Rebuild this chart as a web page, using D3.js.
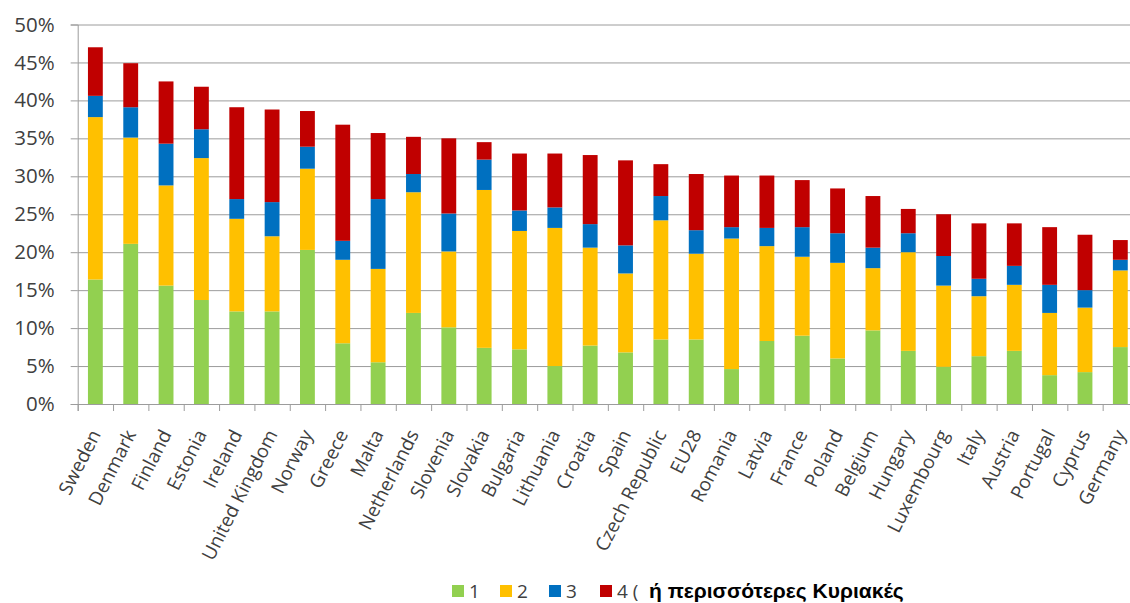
<!DOCTYPE html>
<html>
<head>
<meta charset="utf-8">
<script src="https://cdn.jsdelivr.net/npm/d3@7"></script>
<style>
  body { margin: 0; background: #fff; }
  svg { display: block; }
</style>
</head>
<body>
<svg id="chart" width="1130" height="603"></svg>
<script>
const countries = ["Sweden", "Denmark", "Finland", "Estonia", "Ireland", "United Kingdom", "Norway",
  "Greece", "Malta", "Netherlands", "Slovenia", "Slovakia", "Bulgaria", "Lithuania", "Croatia",
  "Spain", "Czech Republic", "EU28", "Romania", "Latvia", "France", "Poland", "Belgium", "Hungary",
  "Luxembourg", "Italy", "Austria", "Portugal", "Cyprus", "Germany"];

// share of workers by number of Sundays worked per month (%)
const one   = [16.4, 21.1, 15.6, 13.7, 12.2, 12.2, 20.3, 8.0, 5.5, 12.0, 10.1, 7.4, 7.2, 5.0, 7.7,
  6.8, 8.5, 8.5, 4.6, 8.3, 9.0, 6.0, 9.7, 7.0, 4.9, 6.3, 7.0, 3.8, 4.2, 7.5];
const two   = [21.4, 14.0, 13.2, 18.7, 12.2, 9.9, 10.7, 11.0, 12.3, 15.9, 10.0, 20.8, 15.6, 18.2, 12.9,
  10.4, 15.7, 11.3, 17.2, 12.5, 10.4, 12.6, 8.2, 13.0, 10.7, 7.9, 8.7, 8.2, 8.5, 10.1];
const three = [2.8, 4.0, 5.5, 3.8, 2.6, 4.5, 2.9, 2.5, 9.2, 2.4, 5.0, 4.0, 2.7, 2.7, 3.1,
  3.7, 3.2, 3.1, 1.5, 2.4, 3.9, 3.9, 2.7, 2.5, 3.9, 2.3, 2.5, 3.7, 2.3, 1.4];
const four  = [6.4, 5.8, 8.2, 5.6, 12.1, 12.2, 4.7, 15.3, 8.7, 4.9, 9.9, 2.3, 7.5, 7.1, 9.1,
  11.2, 4.2, 7.4, 6.8, 6.9, 6.2, 5.9, 6.8, 3.2, 5.5, 7.3, 5.6, 7.6, 7.3, 2.6];

const seriesKeys = ["1", "2", "3", "4"];
const yTicks = [0, 5, 10, 15, 20, 25, 30, 35, 40, 45, 50];

const rows = countries.map((c, i) => ({ country: c, "1": one[i], "2": two[i], "3": three[i], "4": four[i] }));

const svg = d3.select("#chart");
const x0 = 77.7, x1 = 1138, yTop = 24.5, yBot = 404;

const x = d3.scaleBand().domain(countries).range([x0, x1]).paddingInner(0.58).paddingOuter(0.29);
const xi = d3.scaleLinear().domain([0, countries.length]).range([x0, x1]);
const y = d3.scaleLinear().domain([0, 50]).range([yBot, yTop]);
const color = d3.scaleOrdinal().domain(seriesKeys).range(["#92D050", "#FFC000", "#0070C0", "#C00000"]);

// grid
svg.append("g")
  .attr("transform", `translate(${x0},0)`)
  .call(d3.axisLeft(y).tickValues(yTicks).tickSize(-(x1 - x0)).tickFormat(""))
  .call(g => g.select(".domain").remove())
  .call(g => g.selectAll("line").attr("stroke", "#9c9c9c"));

// y axis
svg.append("g")
  .attr("transform", `translate(${x0},0)`)
  .call(d3.axisLeft(y).tickValues(yTicks).tickSize(7).tickPadding(16).tickFormat(d => d + "%"))
  .call(g => g.select(".domain").attr("stroke", "#9c9c9c"))
  .call(g => g.selectAll("line").attr("stroke", "#9c9c9c"))
  .call(g => g.selectAll("text")
    .attr("fill", "#404040")
    .style("font-family", "'Open Sans', sans-serif")
    .style("font-size", "20.5px"));

// bars
const stacked = d3.stack().keys(seriesKeys)(rows);
svg.append("g")
  .selectAll("g")
  .data(stacked)
  .join("g")
  .attr("fill", d => color(d.key))
  .selectAll("rect")
  .data(d => d)
  .join("rect")
  .attr("x", d => x(d.data.country))
  .attr("width", x.bandwidth())
  .attr("y", d => y(d[1]))
  .attr("height", d => y(d[0]) - y(d[1]));

// x axis ticks at band edges
svg.append("g")
  .attr("transform", `translate(0,${yBot})`)
  .call(d3.axisBottom(xi).tickValues(d3.range(countries.length + 1)).tickSize(7).tickFormat(""))
  .call(g => g.select(".domain").attr("stroke", "#9c9c9c"))
  .call(g => g.selectAll("line").attr("stroke", "#9c9c9c"));

// x labels
svg.append("g")
  .attr("transform", `translate(0,${yBot})`)
  .call(d3.axisBottom(x).tickSize(0).tickPadding(0))
  .call(g => g.select(".domain").remove())
  .call(g => g.selectAll("text")
    .attr("text-anchor", "end")
    .attr("dy", "0.35em")
    .attr("transform", "translate(0,27) rotate(-63)")
    .attr("fill", "#404040")
    .style("font-family", "'Open Sans', sans-serif")
    .style("font-size", "19px"));

// legend
const legend = svg.append("g").attr("transform", "translate(0,591)");
const legX = [452, 500, 549, 600];
seriesKeys.forEach((k, i) => {
  legend.append("rect").attr("x", legX[i]).attr("y", -6).attr("width", 12).attr("height", 12).attr("fill", color(k));
  legend.append("text").attr("x", legX[i] + 17).attr("y", 0).attr("dy", "0.38em")
    .attr("fill", "#404040")
    .style("font-family", "'Open Sans', sans-serif")
    .style("font-size", "19px")
    .text(k === "4" ? "4 (" : k);
});
legend.append("rect").attr("x", 638).attr("y", -16).attr("width", 290).attr("height", 26).attr("fill", "#fff");
legend.append("text").attr("x", 649).attr("y", 0).attr("dy", "0.35em")
  .attr("fill", "#000")
  .style("font-family", "'Liberation Sans', Arial, sans-serif")
  .style("font-weight", "bold")
  .style("font-size", "21px")
  .text("ή περισσότερες Κυριακές");
</script>
</body>
</html>
